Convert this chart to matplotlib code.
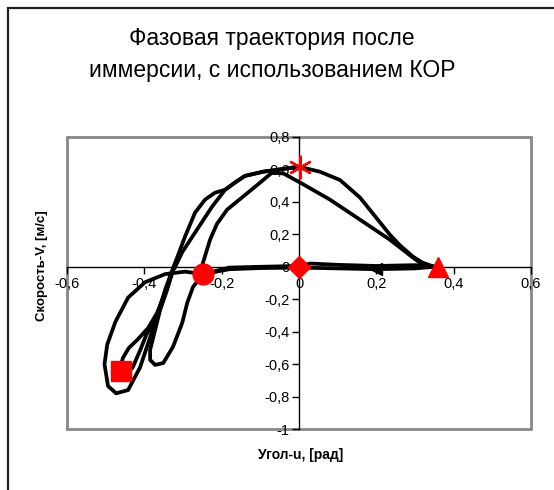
import matplotlib
matplotlib.use("Agg")
import matplotlib.pyplot as plt
from matplotlib.patches import Rectangle
from matplotlib.ticker import FuncFormatter, MultipleLocator

plt.rcParams['font.family'] = ['Liberation Sans', 'DejaVu Sans']

TITLE = "Фазовая траектория после\nиммерсии, с использованием КОР"
XLABEL = "Угол-u, [рад]"
YLABEL = "Скорость-V, [м/с]"

# trajectory pieces (u = angle, v = velocity)
loop_a_u = [-0.324, -0.345, -0.365, -0.38, -0.395, -0.41, -0.43, -0.45, -0.465,
            -0.455, -0.44, -0.418, -0.39, -0.367, -0.345, -0.324]
loop_a_v = [-0.01, -0.15, -0.29, -0.36, -0.42, -0.51, -0.62, -0.67, -0.64,
            -0.56, -0.5, -0.45, -0.377, -0.284, -0.15, -0.01]

l2_u = [-0.322, -0.302, -0.269, -0.225, -0.191, -0.165, -0.14, -0.093, -0.05, 0.0]
l2_v = [-0.01, 0.09, 0.21, 0.37, 0.475, 0.52, 0.56, 0.586, 0.6, 0.617]

l1_u = [-0.326, -0.313, -0.295, -0.269, -0.243, -0.217, -0.191, -0.165, -0.14, -0.093, -0.05, 0.0]
l1_v = [-0.01, 0.07, 0.185, 0.333, 0.414, 0.457, 0.475, 0.52, 0.56, 0.586, 0.6, 0.617]

top_right_u = [0.0, 0.054, 0.106, 0.158, 0.209, 0.235, 0.262, 0.295, 0.32, 0.35]
top_right_v = [0.617, 0.586, 0.535, 0.426, 0.275, 0.198, 0.13, 0.062, 0.025, 0.0]

back_u = [0.35, 0.3, 0.2, 0.1, 0.0, -0.1, -0.18, -0.248]
back_v = [0.0, -0.01, -0.015, -0.01, -0.005, -0.008, -0.015, -0.045]
back2_u = [0.35, 0.3, 0.2, 0.1, 0.03, 0.0, -0.1, -0.18, -0.248]
back2_v = [0.0, 0.01, 0.005, 0.012, 0.02, 0.005, 0.0, -0.005, -0.045]

outer_u = [-0.248, -0.295, -0.346, -0.398, -0.442, -0.475, -0.496, -0.503, -0.494,
           -0.473, -0.442, -0.411, -0.39, -0.367, -0.346, -0.326]
outer_v = [-0.045, -0.03, -0.045, -0.095, -0.19, -0.34, -0.48, -0.6, -0.735,
           -0.78, -0.76, -0.62, -0.47, -0.31, -0.14, -0.01]

loop_b_u = [-0.248, -0.274, -0.289, -0.302, -0.326, -0.351, -0.372, -0.385, -0.385,
            -0.372, -0.359, -0.341, -0.326]
loop_b_v = [-0.045, -0.124, -0.222, -0.346, -0.494, -0.593, -0.605, -0.574, -0.512,
            -0.388, -0.265, -0.142, -0.02]

l3_u = [-0.248, -0.25, -0.23, -0.212, -0.186, -0.145, -0.105, -0.07, -0.04, 0.003,
        0.08, 0.158, 0.235, 0.295, 0.32, 0.35]
l3_v = [-0.045, 0.012, 0.167, 0.265, 0.352, 0.432, 0.51, 0.58, 0.575, 0.519,
        0.414, 0.29, 0.167, 0.056, 0.012, 0.0]

# marked states
star_u, star_v = 0.003, 0.617
tri_u, tri_v = 0.36, 0.0
dia_u, dia_v = 0.0, 0.0
circ_u, circ_v = -0.248, -0.045
sq_u, sq_v = -0.46, -0.64
arrow_u, arrow_v = 0.2, -0.012

fig = plt.figure(figsize=(5.54, 4.9), dpi=100)
fig.patches.append(Rectangle((8 / 554, -0.2), 1.5, 1.2 - 8 / 490,
                             transform=fig.transFigure, fill=False,
                             edgecolor='#222222', lw=1.6))

ax = fig.add_axes([67 / 554, 61 / 490, 464 / 554, 292 / 490])
ax.set_xlim(-0.6, 0.6)
ax.set_ylim(-1, 0.8)

line_kw = dict(color='black', lw=2.7, solid_joinstyle='round', solid_capstyle='round', zorder=3)
for u, v in [(loop_a_u, loop_a_v), (l2_u, l2_v), (top_right_u, top_right_v),
             (back_u, back_v), (outer_u, outer_v), (l1_u, l1_v),
             (loop_b_u, loop_b_v), (l3_u, l3_v), (back2_u, back2_v)]:
    ax.plot(u, v, **line_kw)

ax.plot(arrow_u, arrow_v, marker='<', color='black', ms=9, zorder=4)

ax.plot(star_u, star_v, marker=(6, 2, 0), color='red', mec='red', mew=1.6, ms=17, zorder=5)
ax.plot(tri_u, tri_v, marker='^', color='red', ms=15, zorder=5)
ax.plot(dia_u, dia_v, marker='D', color='red', ms=11, zorder=5)
ax.plot(circ_u, circ_v, marker='o', color='red', ms=15, zorder=5)
ax.plot(sq_u, sq_v, marker='s', color='red', ms=15, zorder=5)

# axes crossing at zero, grey frame around the plot area
for s in ['top', 'right']:
    ax.spines[s].set_visible(False)
ax.spines['left'].set_position(('data', 0))
ax.spines['bottom'].set_position(('data', 0))
ax.spines['left'].set_linewidth(1)
ax.spines['bottom'].set_linewidth(1)
ax.add_patch(Rectangle((0, 0), 1, 1, transform=ax.transAxes, fill=False,
                       edgecolor='#888888', lw=2, clip_on=False, zorder=1))

fmt = FuncFormatter(lambda x, p: ('%g' % (round(x, 1) + 0.0)).replace('.', ','))
ax.xaxis.set_major_locator(MultipleLocator(0.2))
ax.yaxis.set_major_locator(MultipleLocator(0.2))
ax.xaxis.set_major_formatter(fmt)
ax.yaxis.set_major_formatter(fmt)
ax.tick_params(direction='out', length=5, width=1, labelsize=10.5, pad=2)

fig.text(272 / 554, 1 - 55 / 490, TITLE, ha='center', va='center',
         fontsize=16.5, linespacing=1.5)
fig.text(301 / 554, 1 - 455 / 490, XLABEL, ha='center', va='center',
         fontsize=10, fontweight='bold')
fig.text(42 / 554, 1 - 266 / 490, YLABEL, ha='center', va='center',
         fontsize=9.5, fontweight='bold', rotation=90)

fig.savefig("out.png", dpi=100)
